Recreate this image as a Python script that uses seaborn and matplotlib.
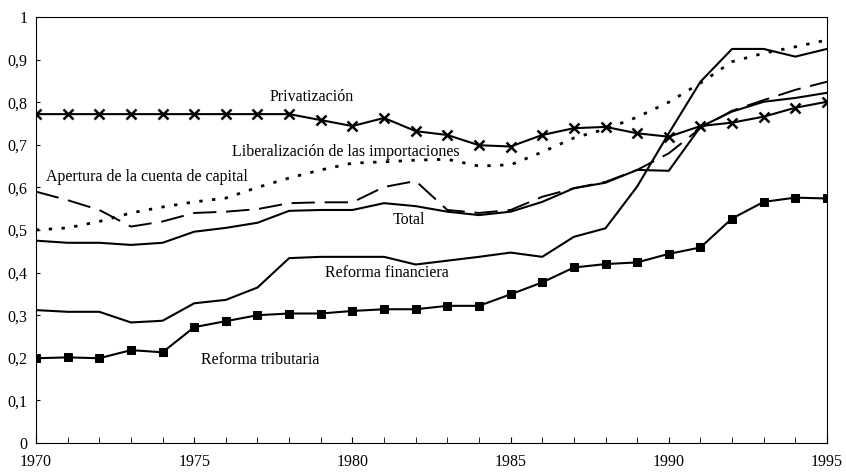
import numpy as np
import pandas as pd
import seaborn as sns
import matplotlib.pyplot as plt
from matplotlib.ticker import MultipleLocator, FuncFormatter

years = list(range(1970, 1996))

privatizacion = [0.772, 0.772, 0.772, 0.772, 0.772, 0.772, 0.772, 0.772, 0.772, 0.758,
                 0.744, 0.763, 0.732, 0.723, 0.699, 0.696, 0.723, 0.739, 0.742, 0.727,
                 0.719, 0.744, 0.752, 0.766, 0.787, 0.801]
liberalizacion = [0.500, 0.505, 0.520, 0.540, 0.554, 0.566, 0.575, 0.600, 0.622, 0.641,
                  0.657, 0.660, 0.664, 0.666, 0.650, 0.653, 0.683, 0.716, 0.737, 0.765,
                  0.800, 0.845, 0.895, 0.915, 0.930, 0.946]
apertura = [0.590, 0.570, 0.547, 0.508, 0.520, 0.540, 0.543, 0.549, 0.563, 0.565,
            0.565, 0.601, 0.615, 0.547, 0.540, 0.547, 0.578, 0.598, 0.613, 0.641,
            0.680, 0.739, 0.780, 0.805, 0.829, 0.848]
total = [0.475, 0.470, 0.470, 0.465, 0.470, 0.496, 0.505, 0.517, 0.545, 0.547,
         0.547, 0.563, 0.556, 0.543, 0.535, 0.543, 0.566, 0.598, 0.611, 0.641,
         0.639, 0.742, 0.778, 0.801, 0.810, 0.822]
financiera = [0.312, 0.308, 0.308, 0.283, 0.287, 0.328, 0.336, 0.365, 0.434, 0.437,
              0.437, 0.437, 0.419, 0.428, 0.437, 0.447, 0.437, 0.484, 0.504, 0.602,
              0.727, 0.848, 0.925, 0.925, 0.907, 0.925]
tributaria = [0.199, 0.201, 0.199, 0.218, 0.213, 0.272, 0.286, 0.300, 0.304, 0.304,
              0.310, 0.314, 0.314, 0.322, 0.322, 0.349, 0.377, 0.412, 0.420, 0.424,
              0.444, 0.459, 0.527, 0.566, 0.576, 0.574]

sns.set_style("white")
plt.rcParams['font.family'] = ['Liberation Serif', 'DejaVu Serif']

fig = plt.figure(figsize=(8.46, 4.72), dpi=100)
ax = fig.add_axes([0.0426, 0.0614, 0.9349, 0.9026])

series = [
    (privatizacion, dict(linestyle="-", marker="x", markersize=7, markeredgewidth=1.8)),
    (liberalizacion, dict(linestyle=(0, (1.2, 3.4)), linewidth=2.0)),
    (apertura, dict(linestyle=(0, (12, 5)), linewidth=1.4)),
    (total, dict(linestyle="-")),
    (financiera, dict(linestyle="-")),
    (tributaria, dict(linestyle="-", marker="s", markersize=5.5)),
]
for vals, kw in series:
    kw.setdefault("linewidth", 1.5)
    sns.lineplot(x=years, y=vals, ax=ax, color="black",
                 markeredgecolor="black", markerfacecolor="black", **kw)

labels = [
    ("Privatización", 1978.7, 0.812),
    ("Liberalización de las importaciones", 1979.8, 0.683),
    ("Apertura de la cuenta de capital", 1973.5, 0.625),
    ("Total", 1981.8, 0.523),
    ("Reforma financiera", 1981.1, 0.398),
    ("Reforma tributaria", 1977.1, 0.195),
]
for txt, x, y in labels:
    ax.text(x, y, txt, ha="center", va="center", fontsize=11.5, color="black")

ax.set_xlim(1970, 1995)
ax.set_ylim(0, 1)
ax.xaxis.set_major_locator(MultipleLocator(5))
ax.xaxis.set_minor_locator(MultipleLocator(1))
ax.yaxis.set_major_locator(MultipleLocator(0.1))
ax.yaxis.set_major_formatter(FuncFormatter(
    lambda v, p: "0" if abs(v) < 1e-9 else ("1" if abs(v - 1) < 1e-9 else f"{v:.1f}".replace(".", ","))))
ax.tick_params(axis="both", which="both", direction="in", colors="black", labelsize=11.5)
ax.tick_params(axis="x", which="major", length=4, pad=8)
ax.tick_params(axis="x", which="minor", length=4)
ax.tick_params(axis="y", which="major", length=3, pad=6, left=True)
ax.tick_params(axis="x", bottom=True, which="both")
for s in ax.spines.values():
    s.set_color("black")
    s.set_linewidth(0.8)
ax.set_xlabel("")
ax.set_ylabel("")

fig.savefig("out.png", dpi=100)
